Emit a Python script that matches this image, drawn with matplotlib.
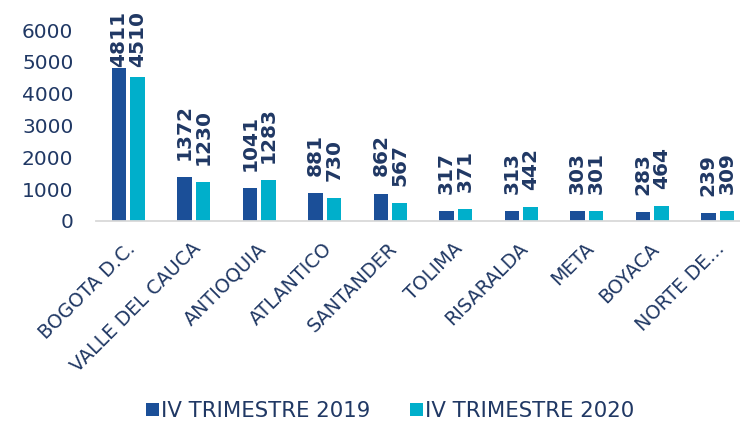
import matplotlib
matplotlib.use("Agg")
import matplotlib.pyplot as plt
import numpy as np

categories = ["BOGOTA D.C.", "VALLE DEL CAUCA", "ANTIOQUIA", "ATLANTICO", "SANTANDER",
              "TOLIMA", "RISARALDA", "META", "BOYACA", "NORTE DE..."]
series_2019 = [4811, 1372, 1041, 881, 862, 317, 313, 303, 283, 239]
series_2020 = [4510, 1230, 1283, 730, 567, 371, 442, 301, 464, 309]
series_names = ["IV TRIMESTRE 2019", "IV TRIMESTRE 2020"]
yticks = [0, 1000, 2000, 3000, 4000, 5000, 6000]

C1 = "#1B4F98"
C2 = "#00AFCB"
TXT = "#203864"

plt.rcParams['font.family'] = ['DejaVu Sans']

W, H = 740, 422
fig = plt.figure(figsize=(W / 100, H / 100), dpi=100)
left_px, right_px, base_px, top_px = 95.6, 750.3, 221, 30
ax = fig.add_axes([left_px / W, (H - base_px) / H, (right_px - left_px) / W, (base_px - top_px) / H])

x = np.arange(len(categories))
bw = 0.222
off = 0.141
b1 = ax.bar(x - off, series_2019, bw, color=C1, label=series_names[0])
b2 = ax.bar(x + off, series_2020, bw, color=C2, label=series_names[1])

ax.set_xlim(-0.5, len(categories) - 0.5)
ax.set_ylim(0, 6000)
ax.set_yticks(yticks)
ax.set_yticklabels([str(t) for t in yticks], fontsize=14.5, color=TXT)
ax.tick_params(axis='y', length=0, pad=16)
ax.tick_params(axis='x', length=0, pad=13)
ax.set_xticks(x - 0.04)
ax.set_xticklabels(categories, rotation=45, ha='right', va='top',
                   rotation_mode='anchor', fontsize=13.8, color=TXT)

for s in ['left', 'right', 'top']:
    ax.spines[s].set_visible(False)
ax.spines['bottom'].set_color('#D9D9D9')
ax.spines['bottom'].set_linewidth(1.3)

label_off = 540
label_cap = 4840
for xs, vals in ((x - off, series_2019), (x + off, series_2020)):
    for xi, v in zip(xs, vals):
        ax.text(xi, min(v + label_off, label_cap), str(v), rotation=90,
                ha='center', va='bottom', fontsize=14.5, fontweight='bold',
                color=TXT, clip_on=False)

fig.legend(handles=[b1, b2], labels=series_names, loc='center',
           bbox_to_anchor=(390 / W, 1 - 411 / H), ncol=2, frameon=False,
           fontsize=15.3, labelcolor=TXT, handlelength=0.62, handleheight=0.62,
           handletextpad=0.08, columnspacing=1.9, borderpad=0)

fig.savefig("out.png", dpi=100)
